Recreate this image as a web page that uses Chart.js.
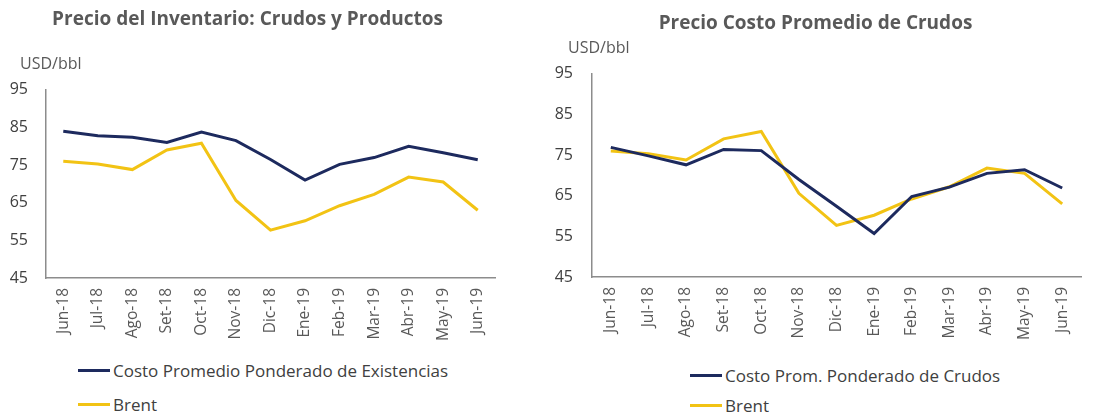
<!DOCTYPE html>
<html>
<head>
<meta charset="utf-8">
<script src="https://cdn.jsdelivr.net/npm/chart.js@4.4.0/dist/chart.umd.min.js"></script>
<style>
  body { margin: 0; background: #fff; width: 1105px; height: 414px; overflow: hidden; position: relative; font-family: "Open Sans", sans-serif; }
  canvas { position: absolute; top: 0; }
  #leftChart { left: 0; }
  #rightChart { left: 550px; }
  .unit { position: absolute; font-size: 16px; line-height: 20px; color: #595959; }
  .legend { position: absolute; font-size: 17px; color: #404040; }
  .legend .item { display: flex; align-items: center; }
  .legend .swatch { display: inline-block; width: 32px; height: 3px; margin-right: 3px; }
</style>
</head>
<body>
<canvas id="leftChart" width="510" height="350"></canvas>
<canvas id="rightChart" width="555" height="350"></canvas>
<div class="unit" style="left:20px; top:53px;">USD/bbl</div>
<div class="unit" style="left:568px; top:37px;">USD/bbl</div>
<div class="legend" id="leftLegend" style="left:78px; top:353px;"></div>
<div class="legend" id="rightLegend" style="left:690px; top:360px;"></div>
<script>
// data
const months = ['Jun-18', 'Jul-18', 'Ago-18', 'Set-18', 'Oct-18', 'Nov-18', 'Dic-18', 'Ene-19', 'Feb-19', 'Mar-19', 'Abr-19', 'May-19', 'Jun-19'];
const costoExistencias = [84, 82.8, 82.4, 81, 83.8, 81.5, 76.5, 71, 75.2, 77, 80, 78.3, 76.4];
const costoCrudos = [76.9, 74.8, 72.6, 76.4, 76.1, 69, 62.4, 55.7, 64.8, 67.1, 70.5, 71.4, 66.9];
const brent = [76, 75.3, 73.8, 79, 80.8, 65.6, 57.7, 60.2, 64.2, 67.2, 71.8, 70.5, 63];
const yTicks = [45, 55, 65, 75, 85, 95];

const NAVY = '#1d2a5e';
const GOLD = '#f2c314';

Chart.defaults.font.family = '"Open Sans", sans-serif';
Chart.defaults.color = '#404040';

function makeChart(id, title, navyLabel, navyData, opt) {
    return new Chart(document.getElementById(id), {
        type: 'line',
        data: {
            labels: months,
            datasets: [
                { label: navyLabel, data: navyData, borderColor: NAVY, backgroundColor: NAVY },
                { label: 'Brent', data: brent, borderColor: GOLD, backgroundColor: GOLD }
            ]
        },
        options: {
            responsive: false,
            animation: false,
            elements: {
                line: { borderWidth: 3, tension: 0 },
                point: { radius: 0 }
            },
            layout: { padding: { left: 0, right: opt.padRight, top: 0, bottom: 0 } },
            plugins: {
                legend: { display: false },
                tooltip: { enabled: false },
                title: {
                    display: true,
                    text: title,
                    color: '#595959',
                    font: { size: 19, weight: 'bold' },
                    padding: { top: opt.titleTop, bottom: opt.titleBottom }
                }
            },
            scales: {
                x: {
                    offset: true,
                    grid: { display: false, drawTicks: false },
                    border: { display: true, color: '#8c8c8c', width: 1.5 },
                    ticks: { minRotation: 90, maxRotation: 90, padding: 10, color: '#595959', font: { size: 15.5 } },
                    afterFit: s => { s.height = 350 - opt.plotBottom; }
                },
                y: {
                    min: yTicks[0],
                    max: yTicks[yTicks.length - 1],
                    grid: { display: false, drawTicks: false },
                    border: { display: true, color: '#8c8c8c', width: 1.5 },
                    ticks: { stepSize: yTicks[1] - yTicks[0], padding: opt.yPad, color: '#404040', font: { size: 16 } },
                    afterFit: s => { s.width = opt.yWidth; }
                }
            }
        }
    });
}

function buildLegend(chart, elId, rowHeight) {
    const box = document.getElementById(elId);
    chart.data.datasets.forEach(ds => {
        const row = document.createElement('div');
        row.className = 'item';
        row.style.height = rowHeight + 'px';
        const sw = document.createElement('span');
        sw.className = 'swatch';
        sw.style.background = ds.borderColor;
        const txt = document.createElement('span');
        txt.textContent = ds.label;
        row.appendChild(sw);
        row.appendChild(txt);
        box.appendChild(row);
    });
}

const leftChart = makeChart('leftChart', 'Precio del Inventario: Crudos y Productos',
    'Costo Promedio Ponderado de Existencias', costoExistencias,
    { padRight: 15, titleTop: 8, titleBottom: 59, plotBottom: 278, yWidth: 46, yPad: 18 });

const rightChart = makeChart('rightChart', 'Precio Costo Promedio de Crudos',
    'Costo Prom. Ponderado de Crudos', costoCrudos,
    { padRight: 24, titleTop: 12, titleBottom: 39, plotBottom: 277, yWidth: 42, yPad: 19 });

buildLegend(leftChart, 'leftLegend', 34);
buildLegend(rightChart, 'rightLegend', 30);
</script>
</body>
</html>
